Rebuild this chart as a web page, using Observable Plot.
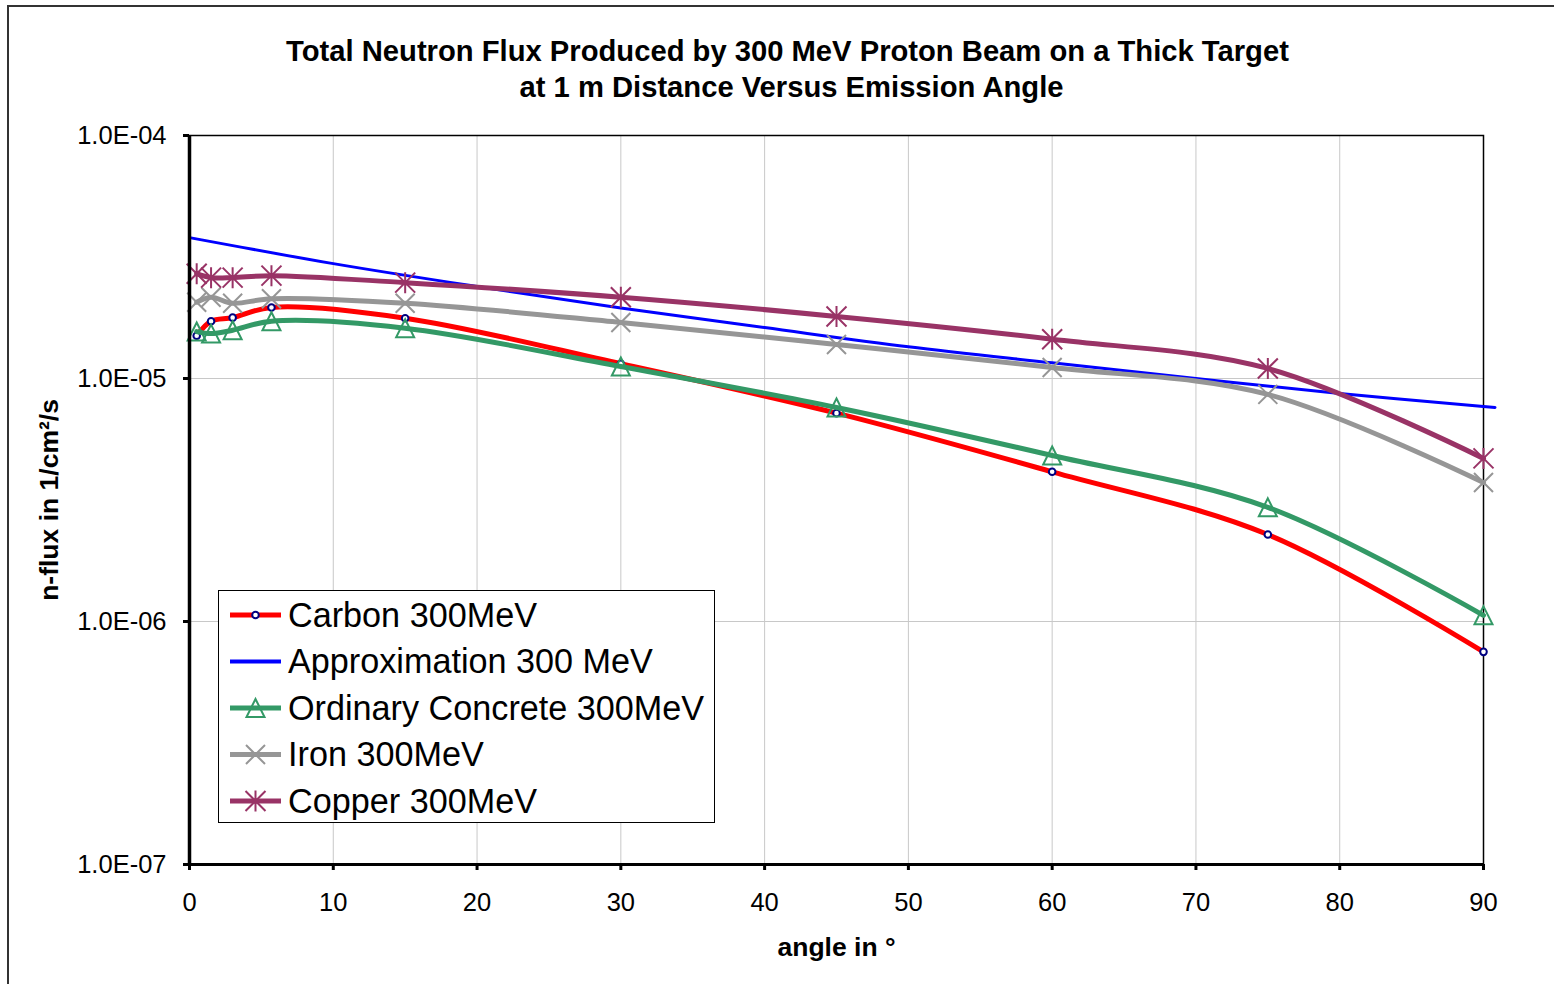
<!DOCTYPE html>
<html><head><meta charset="utf-8">
<script src="https://cdn.jsdelivr.net/npm/d3@7"></script>
<script src="https://cdn.jsdelivr.net/npm/@observablehq/plot@0.6"></script>
<style>
body{margin:0;background:#fff;overflow:hidden;font-family:"Liberation Sans",Arial,sans-serif;}
#page{position:relative;width:1554px;height:984px;overflow:hidden;background:#fff;}
#outer{position:absolute;left:7px;top:5px;width:1700px;height:1100px;border:2px solid #333;}
#chart{position:absolute;left:0;top:0;}
#legend{position:absolute;left:218px;top:590px;width:495px;height:231px;border:1px solid #000;background:#fff;}
</style></head><body>
<div id="page"><div id="outer"></div><div id="chart"></div><div id="legend"></div></div>
<script>
// ---- data ----
const angles = [0.5, 1.5, 3, 5.7, 15, 30, 45, 60, 75, 90];
const carbon   = [1.50e-5, 1.72e-5, 1.78e-5, 1.96e-5, 1.77e-5, 1.15e-5, 7.2e-6, 4.13e-6, 2.28e-6, 7.5e-7];
const concrete = [1.56e-5, 1.53e-5, 1.58e-5, 1.72e-5, 1.61e-5, 1.12e-5, 7.6e-6, 4.82e-6, 2.95e-6, 1.06e-6];
const iron     = [2.06e-5, 2.16e-5, 2.04e-5, 2.13e-5, 2.04e-5, 1.70e-5, 1.38e-5, 1.11e-5, 8.6e-6, 3.73e-6];
const copper   = [2.70e-5, 2.60e-5, 2.60e-5, 2.65e-5, 2.48e-5, 2.16e-5, 1.80e-5, 1.45e-5, 1.10e-5, 4.69e-6];
const approxAngles = [0, 10, 20, 30, 40, 50, 60, 70, 80, 90, 90.8];
const approx       = [3.80e-5, 2.97e-5, 2.39e-5, 1.95e-5, 1.62e-5, 1.35e-5, 1.16e-5, 1.00e-5, 8.67e-6, 7.67e-6, 7.6e-6];

const xTicks = [0, 10, 20, 30, 40, 50, 60, 70, 80, 90];
const xTickLabels = ["0", "10", "20", "30", "40", "50", "60", "70", "80", "90"];
const yTicks = [1e-7, 1e-6, 1e-5, 1e-4];
const yTickLabels = ["1.0E-07", "1.0E-06", "1.0E-05", "1.0E-04"];

const seriesNames = ["Carbon 300MeV", "Approximation 300 MeV", "Ordinary Concrete 300MeV", "Iron 300MeV", "Copper 300MeV"];
const titleLines = ["Total Neutron Flux Produced by 300 MeV Proton Beam on a Thick Target", "at 1 m Distance Versus Emission Angle"];
const xLabel = "angle in °";
const yLabel = "n-flux in 1/cm²/s";

// ---- symbols ----
const rad = s => Math.sqrt(s / Math.PI);
const triSym = {draw(ctx, s){ const r = rad(s); ctx.moveTo(0, -r); ctx.lineTo(r, r); ctx.lineTo(-r, r); ctx.closePath(); }};
const timesSym = {draw(ctx, s){ const r = rad(s); ctx.moveTo(-r, -r); ctx.lineTo(r, r); ctx.moveTo(-r, r); ctx.lineTo(r, -r); }};
const starSym = {draw(ctx, s){ const r = rad(s); ctx.moveTo(-r, -r); ctx.lineTo(r, r); ctx.moveTo(-r, r); ctx.lineTo(r, -r); ctx.moveTo(0, -r*1.05); ctx.lineTo(0, r*1.05); }};

const rows = (xs, ys) => xs.map((a, i) => ({angle: a, value: ys[i]}));
const dCarbon = rows(angles, carbon), dConcrete = rows(angles, concrete), dIron = rows(angles, iron), dCopper = rows(angles, copper), dApprox = rows(approxAngles, approx);

const C = {carbon: "#ff0000", navy: "#000080", approx: "#0000ff", concrete: "#339966", iron: "#969696", copper: "#993366"};
const curve = "catmull-rom";

const chart = Plot.plot({
  width: 1554, height: 984,
  marginLeft: 189, marginRight: 71, marginTop: 135, marginBottom: 120,
  style: {fontFamily: "'Liberation Sans', Arial, sans-serif", fontSize: "25.5px", color: "#000", background: "transparent", overflow: "visible"},
  x: {domain: [0, 90]},
  y: {type: "log", domain: [1e-7, 1e-4]},
  marks: [
    Plot.gridX(xTicks, {stroke: "#c8c8c8", strokeOpacity: 1, strokeWidth: 1}),
    Plot.gridY(yTicks, {stroke: "#c8c8c8", strokeOpacity: 1, strokeWidth: 1}),
    Plot.frame({stroke: "#000", strokeWidth: 1.5}),
    Plot.line(dCarbon, {x: "angle", y: "value", stroke: C.carbon, strokeWidth: 5, curve}),
    Plot.dot(dCarbon, {x: "angle", y: "value", r: 3.3, fill: "white", stroke: C.navy, strokeWidth: 2}),
    Plot.line(dApprox, {x: "angle", y: "value", stroke: C.approx, strokeWidth: 3, curve}),
    Plot.line(dConcrete, {x: "angle", y: "value", stroke: C.concrete, strokeWidth: 5, curve}),
    Plot.dot(dConcrete, {x: "angle", y: "value", r: 9, symbol: triSym, fill: "none", stroke: C.concrete, strokeWidth: 2}),
    Plot.line(dIron, {x: "angle", y: "value", stroke: C.iron, strokeWidth: 5, curve}),
    Plot.dot(dIron, {x: "angle", y: "value", r: 9.5, symbol: timesSym, fill: "none", stroke: C.iron, strokeWidth: 2}),
    Plot.line(dCopper, {x: "angle", y: "value", stroke: C.copper, strokeWidth: 5, curve}),
    Plot.dot(dCopper, {x: "angle", y: "value", r: 10, symbol: starSym, fill: "none", stroke: C.copper, strokeWidth: 2}),
    Plot.ruleX([0], {stroke: "#000", strokeWidth: 3.5}),
    Plot.ruleY([1e-7], {stroke: "#000", strokeWidth: 3}),
    Plot.axisY(yTicks, {tickSize: 6, tickPadding: 17, strokeWidth: 3, tickFormat: d => yTickLabels[yTicks.indexOf(d)], label: null}),
    Plot.axisX(xTicks, {tickSize: 6, tickPadding: 22, strokeWidth: 3, tickFormat: d => xTickLabels[xTicks.indexOf(d)], label: null}),
    Plot.text([titleLines[0]], {frameAnchor: "top", lineAnchor: "middle", textAnchor: "middle", dx: -49, dy: -84, fontWeight: "bold", fontSize: 29.2}),
    Plot.text([titleLines[1]], {frameAnchor: "top", lineAnchor: "middle", textAnchor: "middle", dx: -45, dy: -48, fontWeight: "bold", fontSize: 29.2}),
    Plot.text([xLabel], {frameAnchor: "bottom", lineAnchor: "middle", textAnchor: "middle", dy: 83, fontWeight: "bold", fontSize: 26.5}),
    Plot.text([yLabel], {frameAnchor: "left", lineAnchor: "middle", textAnchor: "middle", dx: -140, rotate: -90, fontWeight: "bold", fontSize: 26.5})
  ]
});
document.getElementById("chart").appendChild(chart);

// ---- legend ----
const legendSeries = [
  {name: seriesNames[0], color: C.carbon, w: 5, sym: d3.symbolCircle, r: 3.3, mfill: "white", mstroke: C.navy},
  {name: seriesNames[1], color: C.approx, w: 4, sym: null},
  {name: seriesNames[2], color: C.concrete, w: 5, sym: triSym, r: 9, mfill: "none", mstroke: C.concrete},
  {name: seriesNames[3], color: C.iron, w: 5, sym: timesSym, r: 9.5, mfill: "none", mstroke: C.iron},
  {name: seriesNames[4], color: C.copper, w: 5, sym: starSym, r: 10, mfill: "none", mstroke: C.copper}
];
const lsvg = d3.select("#legend").append("svg").attr("width", 495).attr("height", 231)
  .style("font-family", "'Liberation Sans', Arial, sans-serif");
legendSeries.forEach((s, i) => {
  const cy = 24 + i * 46.5;
  const g = lsvg.append("g").attr("transform", `translate(0,${cy})`);
  g.append("line").attr("x1", 11).attr("x2", 62).attr("y1", 0).attr("y2", 0).attr("stroke", s.color).attr("stroke-width", s.w);
  if (s.sym) g.append("path").attr("transform", "translate(36.5,0)")
    .attr("d", d3.symbol(s.sym, s.r * s.r * Math.PI)())
    .attr("fill", s.mfill).attr("stroke", s.mstroke).attr("stroke-width", 2);
  g.append("text").attr("x", 69).attr("y", 0).attr("dy", "0.35em").attr("font-size", 34.2).attr("fill", "#000").text(s.name);
});
</script>
</body></html>
